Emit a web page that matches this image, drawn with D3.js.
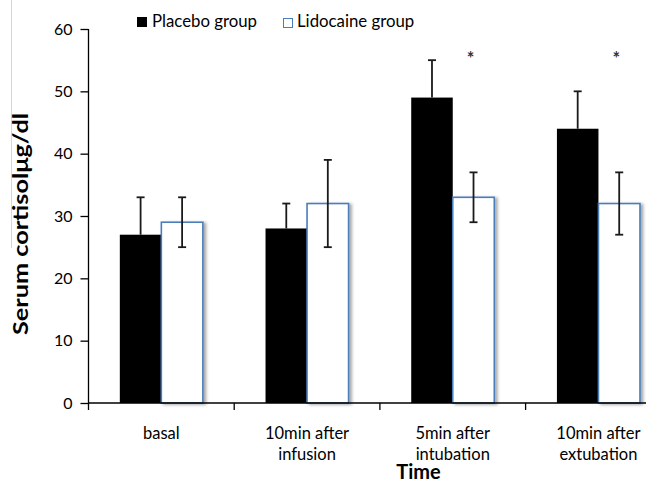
<!DOCTYPE html>
<html>
<head>
<meta charset="utf-8">
<script src="https://cdn.jsdelivr.net/npm/d3@7"></script>
<style>
  body { margin: 0; background: #fff; }
  svg { display: block; font-family: Lato, "Open Sans", sans-serif; }
</style>
</head>
<body>
<div id="chart"></div>
<script>
// data
var categories = [
  ['basal'],
  ['10min after', 'infusion'],
  ['5min after', 'intubation'],
  ['10min after', 'extubation']
];
var groups = ['Placebo group', 'Lidocaine group'];
var placeboMean = [27, 28, 49, 44];
var placeboSd = [6, 4, 6, 6];
var lidocaineMean = [29, 32, 33, 32];
var lidocaineSd = [4, 7, 4, 5];
var significant = [false, false, true, true];
var yTicks = [0, 10, 20, 30, 40, 50, 60];

var width = 646, height = 483;

var svg = d3.select('#chart').append('svg')
  .attr('width', width)
  .attr('height', height);

var defs = svg.append('defs');
defs.append('filter')
  .attr('id', 'shadow')
  .attr('x', '-10%').attr('y', '-10%')
  .attr('width', '130%').attr('height', '120%')
  .append('feDropShadow')
  .attr('dx', 2.5).attr('dy', 1)
  .attr('stdDeviation', 1.5)
  .attr('flood-color', '#000')
  .attr('flood-opacity', 0.35);

// faint frame line on the left
svg.append('line')
  .attr('x1', 11.5).attr('x2', 11.5)
  .attr('y1', 0).attr('y2', 248)
  .attr('stroke', '#d8d8d8');

var keys = categories.map(function (d) { return d.join(' '); });

var x = d3.scaleBand()
  .domain(keys)
  .range([88.5, 671.3])
  .paddingInner(0.43)
  .paddingOuter(0.215);

var x1 = d3.scaleBand()
  .domain(groups)
  .range([0, x.bandwidth()]);

var y = d3.scaleLinear()
  .domain([0, 60])
  .range([403, 29]);

var rows = keys.map(function (k, i) {
  return {
    key: k,
    label: categories[i],
    sig: significant[i],
    values: [
      { group: groups[0], mean: placeboMean[i], sd: placeboSd[i] },
      { group: groups[1], mean: lidocaineMean[i], sd: lidocaineSd[i] }
    ]
  };
});

// bars
var cat = svg.append('g').selectAll('g')
  .data(rows)
  .join('g')
  .attr('transform', function (d) { return 'translate(' + x(d.key) + ',0)'; });

cat.selectAll('rect')
  .data(function (d) { return d.values; })
  .join('rect')
  .attr('x', function (d) { return x1(d.group); })
  .attr('y', function (d) { return y(d.mean); })
  .attr('width', x1.bandwidth())
  .attr('height', function (d) { return y(0) - y(d.mean); })
  .attr('fill', function (d) { return d.group === groups[0] ? '#000' : '#fff'; })
  .attr('stroke', function (d) { return d.group === groups[0] ? 'none' : '#4a7ebb'; })
  .attr('stroke-width', 1.6)
  .attr('filter', function (d) { return d.group === groups[0] ? null : 'url(#shadow)'; });

// error bars (lower half hidden by the black bars for placebo)
var lower = function (d) { return d.group === groups[0] ? d.mean : d.mean - d.sd; };
var cx = function (d) { return x1(d.group) + x1.bandwidth() / 2; };

var err = cat.selectAll('g.err')
  .data(function (d) { return d.values; })
  .join('g')
  .attr('class', 'err')
  .attr('stroke', '#1a1a1a')
  .attr('stroke-width', 1.8);

err.append('line')
  .attr('x1', cx)
  .attr('x2', cx)
  .attr('y1', function (d) { return y(d.mean + d.sd); })
  .attr('y2', function (d) { return y(lower(d)); });

err.append('line')
  .attr('x1', function (d) { return cx(d) - 4; })
  .attr('x2', function (d) { return cx(d) + 4; })
  .attr('y1', function (d) { return y(d.mean + d.sd); })
  .attr('y2', function (d) { return y(d.mean + d.sd); });

err.filter(function (d) { return d.group !== groups[0]; })
  .append('line')
  .attr('x1', function (d) { return cx(d) - 4; })
  .attr('x2', function (d) { return cx(d) + 4; })
  .attr('y1', function (d) { return y(d.mean - d.sd); })
  .attr('y2', function (d) { return y(d.mean - d.sd); });

// significance marks
cat.filter(function (d) { return d.sig; })
  .append('text')
  .attr('x', x1(groups[1]) + x1.bandwidth() / 2 - 3)
  .attr('y', y(54.2))
  .attr('text-anchor', 'middle')
  .attr('font-size', 18)
  .attr('font-weight', 'bold')
  .attr('fill', '#333')
  .text('*');

// y axis
var yAxis = svg.append('g')
  .attr('transform', 'translate(88.5,0)')
  .call(d3.axisLeft(y).tickValues(yTicks).tickSize(8).tickPadding(8));
yAxis.select('.domain').attr('stroke', '#000').attr('stroke-width', 1.3).attr('d', 'M0,' + y(60) + 'V' + y(0));
yAxis.selectAll('.tick line').attr('stroke', '#000').attr('stroke-width', 1.3);
yAxis.selectAll('.tick text')
  .attr('font-family', 'Lato, sans-serif')
  .attr('font-size', 16)
  .attr('fill', '#000');

// x axis
var gap = x.step() - x.bandwidth();
var bounds = keys.map(function (k) { return x(k) - gap / 2; });
var xAxis = svg.append('g');
xAxis.append('line')
  .attr('x1', bounds[0]).attr('x2', width)
  .attr('y1', y(0)).attr('y2', y(0))
  .attr('stroke', '#000').attr('stroke-width', 1.3);
xAxis.selectAll('line.tick')
  .data(bounds)
  .join('line')
  .attr('class', 'tick')
  .attr('x1', function (d) { return d; })
  .attr('x2', function (d) { return d; })
  .attr('y1', y(0)).attr('y2', y(0) + 7)
  .attr('stroke', '#000').attr('stroke-width', 1.3);

var xl = svg.append('g').selectAll('text')
  .data(rows)
  .join('text')
  .attr('x', function (d) { return x(d.key) + x.bandwidth() / 2; })
  .attr('y', 439)
  .attr('text-anchor', 'middle')
  .attr('font-size', 16.5)
  .attr('fill', '#000');
xl.selectAll('tspan')
  .data(function (d) { return d.label; })
  .join('tspan')
  .attr('x', function () { return d3.select(this.parentNode).attr('x'); })
  .attr('dy', function (d, i) { return i === 0 ? 0 : 21; })
  .text(function (d) { return d; });

// axis titles
svg.append('text')
  .attr('x', 418.5)
  .attr('y', 479)
  .attr('text-anchor', 'middle')
  .attr('font-size', 20)
  .attr('font-weight', 'bold')
  .text('Time');

svg.append('text')
  .attr('transform', 'translate(28,224) rotate(-90)')
  .attr('text-anchor', 'middle')
  .attr('font-size', 21)
  .attr('font-weight', 'bold')
  .attr('textLength', 222)
  .attr('lengthAdjust', 'spacingAndGlyphs')
  .text('Serum cortisolμg/dl');

// legend
var legend = svg.append('g');
legend.append('rect')
  .attr('x', 137).attr('y', 17)
  .attr('width', 10).attr('height', 10)
  .attr('fill', '#000');
legend.append('text')
  .attr('x', 152).attr('y', 27)
  .attr('font-size', 16.8)
  .text(groups[0]);
legend.append('rect')
  .attr('x', 283.5).attr('y', 18.5)
  .attr('width', 9).attr('height', 9)
  .attr('fill', '#fff')
  .attr('stroke', '#4a7ebb')
  .attr('stroke-width', 1);
legend.append('text')
  .attr('x', 297).attr('y', 27)
  .attr('font-size', 16.8)
  .text(groups[1]);
</script>
</body>
</html>
